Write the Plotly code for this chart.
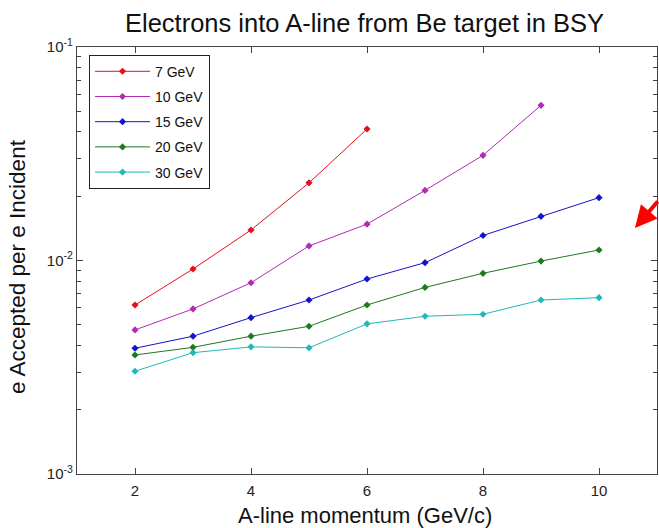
import math
import plotly.graph_objects as go

momentum = [2, 3, 4, 5, 6, 7, 8, 9, 10]
series_names = ["7 GeV", "10 GeV", "15 GeV", "20 GeV", "30 GeV"]
e7 = [0.00619, 0.00912, 0.0139, 0.0231, 0.0413]
e10 = [0.00473, 0.00593, 0.00787, 0.0117, 0.0148, 0.0213, 0.0311, 0.0533]
e15 = [0.00388, 0.00442, 0.00540, 0.00653, 0.00819, 0.00977, 0.0131, 0.0161, 0.0197]
e20 = [0.00361, 0.00392, 0.00442, 0.00492, 0.00619, 0.00748, 0.00871, 0.00994, 0.0112]
e30 = [0.00303, 0.00370, 0.00394, 0.00390, 0.00505, 0.00548, 0.00560, 0.00653, 0.00670]
colors = ["#e4101c", "#b02cb4", "#1414c8", "#1e7a1e", "#22b8b8"]

x_tickvals = [2, 4, 6, 8, 10]
y_tickvals = [0.001, 0.01, 0.1]
y_ticktext = ["10<sup>-3</sup>", "10<sup>-2</sup>", "10<sup>-1</sup>"]
y_minor = [m * 10 ** e for e in (-3, -2) for m in range(2, 10)]

FONT = "Liberation Sans, Arial, sans-serif"
fig = go.Figure()
for i, (name, ys) in enumerate(zip(series_names, [e7, e10, e15, e20, e30])):
    fig.add_trace(go.Scatter(
        x=momentum[:len(ys)], y=ys, name=name, mode="lines+markers",
        line=dict(color=colors[i], width=1),
        marker=dict(symbol="diamond", size=5.5, color=colors[i]),
        legendgroup=name,
    ))

axis_common = dict(showline=True, linecolor="#444", linewidth=1.2, mirror="allticks",
                   ticks="inside", tickcolor="#444", showgrid=False, zeroline=False,
                   tickfont=dict(family=FONT, size=15, color="#222"))
fig.update_xaxes(range=[1, 11], tickvals=x_tickvals, ticklen=6, ticklabelstandoff=3,
                 **axis_common)
fig.update_yaxes(type="log", range=[-3, -1], tickvals=y_tickvals, ticktext=y_ticktext,
                 ticklen=6,
                 minor=dict(tickvals=y_minor, ticks="inside", ticklen=4, tickcolor="#444"),
                 **axis_common)

fig.update_layout(
    width=659, height=528,
    margin=dict(l=77, r=2, t=47, b=54),
    plot_bgcolor="white", paper_bgcolor="white",
    font=dict(family=FONT, color="#111"),
    title=dict(text="Electrons into A-line from Be target in BSY", x=0.4957, xref="paper",
               xanchor="center", y=0.957, yanchor="middle",
               font=dict(family=FONT, size=25.5, color="#111")),
    legend=dict(x=0.0207, y=0.982, xanchor="left", yanchor="top",
                bordercolor="#222", borderwidth=1, bgcolor="white",
                font=dict(family=FONT, size=14, color="#111"),
                itemwidth=55, tracegroupgap=4, traceorder="grouped"),
    showlegend=True,
    annotations=[
        dict(text="A-line momentum (GeV/c)", xref="paper", yref="paper", x=0.4957, y=-0.098,
             xanchor="center", yanchor="middle", showarrow=False,
             font=dict(family=FONT, size=22, color="#111")),
        dict(text="e Accepted per e Incident", xref="paper", yref="paper", x=-0.1015, y=0.485,
             xanchor="center", yanchor="middle", showarrow=False, textangle=-90,
             font=dict(family=FONT, size=22.5, color="#111")),
        dict(text="", xref="x", yref="y", x=10.62, y=math.log10(0.0142), showarrow=True,
             arrowhead=2, arrowsize=1.1, arrowwidth=4, arrowcolor="#ff0000",
             ax=40, ay=-28),
    ],
)
fig.write_html("out.html", config={"displayModeBar": False},
               post_script="document.body.style.margin='0';document.body.style.overflow='hidden';")
